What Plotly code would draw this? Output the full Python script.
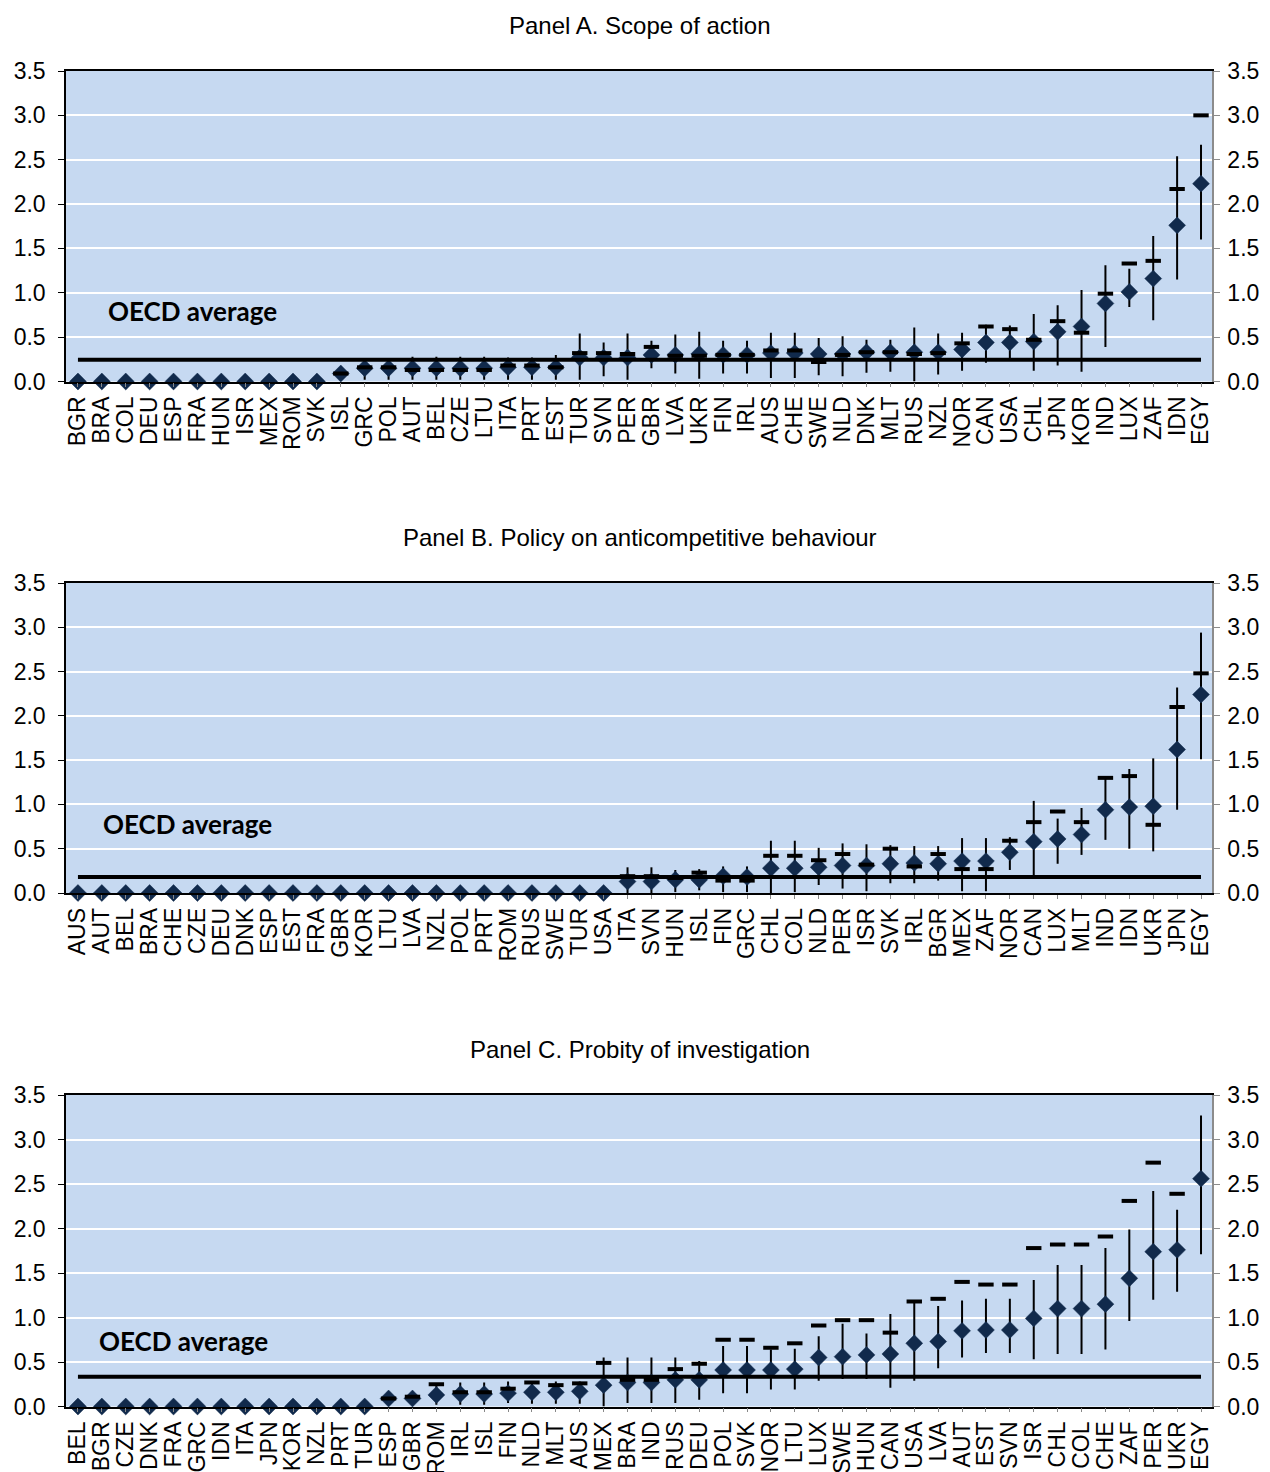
import plotly.graph_objects as go

# ---------------- Panel A. Scope of action ----------------
cats_a = ["BGR","BRA","COL","DEU","ESP","FRA","HUN","ISR","MEX","ROM","SVK","ISL","GRC","POL","AUT","BEL",
          "CZE","LTU","ITA","PRT","EST","TUR","SVN","PER","GBR","LVA","UKR","FIN","IRL","AUS","CHE","SWE",
          "NLD","DNK","MLT","RUS","NZL","NOR","CAN","USA","CHL","JPN","KOR","IND","LUX","ZAF","IDN","EGY"]
score_a = [0,0,0,0,0,0,0,0,0,0,0,0.09,0.15,0.15,0.15,0.15,
           0.15,0.15,0.16,0.16,0.16,0.27,0.27,0.27,0.30,0.30,0.31,0.30,0.30,0.32,0.32,0.31,
           0.31,0.33,0.33,0.33,0.33,0.36,0.44,0.44,0.45,0.56,0.62,0.88,1.01,1.16,1.76,2.23]
dash_a = [None,None,None,None,None,None,None,None,None,None,None,0.09,0.16,0.16,0.13,0.13,
          0.13,0.13,0.18,0.18,0.16,0.32,0.32,0.31,0.39,0.29,0.29,0.30,0.30,0.35,0.35,0.22,
          0.30,0.33,0.33,0.31,0.32,0.43,0.62,0.59,0.47,0.68,0.55,0.99,1.33,1.36,2.17,3.00]
lo_a = [None,None,None,None,None,None,None,None,None,None,None,0.06,0.02,0.02,0.02,0.02,
        0.02,0.02,0.02,0.02,0.02,0.02,0.06,0.02,0.15,0.09,0.03,0.09,0.09,0.04,0.04,0.07,
        0.06,0.10,0.11,0.00,0.08,0.12,0.21,0.26,0.12,0.18,0.11,0.39,0.84,0.69,1.15,1.60]
hi_a = [None,None,None,None,None,None,None,None,None,None,None,0.12,0.26,0.26,0.28,0.28,
        0.28,0.28,0.27,0.27,0.30,0.54,0.44,0.54,0.46,0.53,0.56,0.46,0.46,0.55,0.55,0.49,
        0.51,0.47,0.47,0.61,0.54,0.55,0.64,0.63,0.76,0.86,1.03,1.31,1.27,1.64,2.54,2.67]
avg_a = 0.245

# ---------------- Panel B. Policy on anticompetitive behaviour ----------------
cats_b = ["AUS","AUT","BEL","BRA","CHE","CZE","DEU","DNK","ESP","EST","FRA","GBR","KOR","LTU","LVA","NZL",
          "POL","PRT","ROM","RUS","SWE","TUR","USA","ITA","SVN","HUN","ISL","FIN","GRC","CHL","COL","NLD",
          "PER","ISR","SVK","IRL","BGR","MEX","ZAF","NOR","CAN","LUX","MLT","IND","IDN","UKR","JPN","EGY"]
score_b = [0,0,0,0,0,0,0,0,0,0,0,0,0,0,0,0,
           0,0,0,0,0,0,0,0.13,0.13,0.15,0.15,0.19,0.18,0.28,0.28,0.29,
           0.31,0.31,0.33,0.34,0.33,0.36,0.36,0.46,0.58,0.61,0.66,0.94,0.97,0.98,1.62,2.24]
dash_b = [None,None,None,None,None,None,None,None,None,None,None,None,None,None,None,None,
          None,None,None,None,None,None,None,0.19,0.19,0.17,0.23,0.14,0.14,0.42,0.42,0.37,
          0.44,0.32,0.50,0.30,0.44,0.27,0.27,0.59,0.80,0.92,0.80,1.30,1.32,0.77,2.10,2.48]
lo_b = [None,None,None,None,None,None,None,None,None,None,None,None,None,None,None,None,
        None,None,None,None,None,None,None,0.00,0.00,0.01,0.03,0.01,0.01,0.00,0.01,0.09,
        0.05,0.02,0.11,0.11,0.14,0.02,0.02,0.26,0.20,0.33,0.43,0.60,0.50,0.47,0.94,1.51]
hi_b = [None,None,None,None,None,None,None,None,None,None,None,None,None,None,None,None,
        None,None,None,None,None,None,None,0.29,0.29,0.26,0.27,0.30,0.30,0.59,0.59,0.51,
        0.56,0.55,0.54,0.53,0.53,0.62,0.62,0.63,1.04,0.84,0.96,1.30,1.40,1.52,2.32,2.94]
avg_b = 0.18

# ---------------- Panel C. Probity of investigation ----------------
cats_c = ["BEL","BGR","CZE","DNK","FRA","GRC","IDN","ITA","JPN","KOR","NZL","PRT","TUR","ESP","GBR","ROM",
          "IRL","ISL","FIN","NLD","MLT","AUS","MEX","BRA","IND","RUS","DEU","POL","SVK","NOR","LTU","LUX",
          "SWE","HUN","CAN","USA","LVA","AUT","EST","SVN","ISR","CHL","COL","CHE","ZAF","PER","UKR","EGY"]
score_c = [0,0,0,0,0,0,0,0,0,0,0,0,0,0.09,0.09,0.13,
           0.14,0.14,0.15,0.16,0.16,0.17,0.24,0.27,0.27,0.30,0.30,0.41,0.41,0.41,0.42,0.55,
           0.56,0.58,0.59,0.71,0.73,0.85,0.86,0.86,0.99,1.10,1.10,1.15,1.44,1.74,1.76,2.56]
dash_c = [None,None,None,None,None,None,None,None,None,None,None,None,None,0.09,0.11,0.25,
          0.16,0.16,0.20,0.27,0.24,0.26,0.49,0.30,0.30,0.42,0.48,0.75,0.75,0.66,0.71,0.91,
          0.97,0.97,0.83,1.18,1.21,1.40,1.37,1.37,1.78,1.82,1.82,1.91,2.31,2.74,2.39,None]
lo_c = [None,None,None,None,None,None,None,None,None,None,None,None,None,None,None,0.02,
        0.02,0.02,0.04,0.03,0.03,0.03,0.00,0.04,0.04,0.04,0.075,0.15,0.15,0.19,0.19,0.29,
        0.31,0.31,0.21,0.29,0.43,0.55,0.60,0.60,0.53,0.59,0.59,0.64,0.96,1.20,1.29,1.71]
hi_c = [None,None,None,None,None,None,None,None,None,None,None,None,None,None,None,0.25,
        0.27,0.27,0.28,0.27,0.28,0.28,0.55,0.55,0.55,0.55,0.51,0.68,0.68,0.64,0.65,0.79,
        0.93,0.82,1.04,1.17,1.13,1.19,1.21,1.21,1.42,1.59,1.59,1.78,1.99,2.42,2.21,3.27]
avg_c = 0.335

titles = ["Panel A. Scope of action",
          "Panel B. Policy on anticompetitive behaviour",
          "Panel C. Probity of investigation"]

panels = [(cats_a, score_a, dash_a, lo_a, hi_a, avg_a),
          (cats_b, score_b, dash_b, lo_b, hi_b, avg_b),
          (cats_c, score_c, dash_c, lo_c, hi_c, avg_c)]

# the page body adds an 8px offset, so the figure is laid out 8px smaller
OFF = 8
W, H = 1270 - OFF, 1472 - OFF
L, R = 66 - OFF, 1212 - OFF
px_rows = [(71 - OFF, 381.5 - OFF), (583 - OFF, 893 - OFF), (1095 - OFF, 1406.5 - OFF)]
title_px = [25 - OFF, 537 - OFF, 1049 - OFF]
title_cx = 640 - OFF
label_pos = [(106 - OFF, 0.80), (101 - OFF, 0.78), (97 - OFF, 0.74)]

NAVY = "#112a4c"
BG = "#c6d9f1"
FONT = "Liberation Sans, Arial, sans-serif"
TICK = 23

fig = go.Figure()
layout = dict(
    width=W, height=H,
    margin=dict(l=L, r=W - R, t=0, b=0, autoexpand=False),
    paper_bgcolor="white",
    showlegend=False,
    font=dict(family=FONT, size=TICK, color="black"),
    annotations=[],
)

for i, (cats, score, dash, lo, hi, avg) in enumerate(panels):
    n = i + 1
    xa = "x" if n == 1 else f"x{n}"
    ya = "y" if n == 1 else f"y{n}"
    yr = f"y{n + 3}"
    top, bot = px_rows[i]
    dom = [1 - bot / H, 1 - top / H]

    plus = [(h - s) if h is not None else 0 for h, s in zip(hi, score)]
    minus = [(s - l) if l is not None else 0 for l, s in zip(lo, score)]

    # confidence interval bars
    fig.add_trace(go.Scatter(
        x=cats, y=score, mode="markers", xaxis=xa, yaxis=ya,
        marker=dict(size=1, opacity=0),
        error_y=dict(type="data", symmetric=False, array=plus, arrayminus=minus,
                     color="black", thickness=2, width=0),
        hoverinfo="skip", cliponaxis=False))
    # point estimates
    fig.add_trace(go.Scatter(
        x=cats, y=score, mode="markers", xaxis=xa, yaxis=ya,
        marker=dict(symbol="diamond", size=13, color=NAVY,
                    line=dict(color=NAVY, width=0.5)),
        cliponaxis=False))
    # dash markers
    fig.add_trace(go.Scatter(
        x=cats, y=dash, mode="markers", xaxis=xa, yaxis=ya,
        marker=dict(symbol="line-ew", size=11, color="black",
                    line=dict(color="black", width=4)),
        cliponaxis=False))
    # OECD average line
    fig.add_trace(go.Scatter(
        x=[cats[0], cats[-1]], y=[avg, avg], mode="lines", xaxis=xa, yaxis=ya,
        line=dict(color="black", width=4)))

    xkey = "xaxis" if n == 1 else f"xaxis{n}"
    ykey = "yaxis" if n == 1 else f"yaxis{n}"
    layout[xkey] = dict(
        domain=[0, 1], anchor=ya, type="category", categoryorder="array", categoryarray=cats,
        tickmode="array", tickvals=cats, ticktext=cats,
        range=[-0.5, 47.46], tickangle=-90, tickfont=dict(size=TICK, family=FONT),
        showline=True, linecolor="black", linewidth=1.5, mirror=True,
        ticks="outside", ticklen=4, tickcolor="#888888", tickwidth=1,
        showgrid=False, zeroline=False, automargin=False, fixedrange=True)
    layout[ykey] = dict(
        domain=dom, anchor=xa, range=[0, 3.5], dtick=0.5, tick0=0, tickformat=".1f",
        showline=True, linecolor="black", linewidth=1.5,
        ticks="outside", ticklen=6, tickcolor="black", tickwidth=1,
        ticklabelstandoff=8,
        showgrid=True, gridcolor="white", gridwidth=1.5, zeroline=False,
        tickfont=dict(size=TICK, family=FONT), automargin=False, fixedrange=True)
    layout[f"yaxis{n + 3}"] = dict(
        overlaying=ya, side="right", anchor=xa, range=[0, 3.5], dtick=0.5, tick0=0,
        tickformat=".1f", showline=True, linecolor="#8c8c8c", linewidth=1.5,
        ticks="outside", ticklen=6, tickcolor="#8c8c8c", tickwidth=1,
        ticklabelstandoff=3,
        showgrid=False, zeroline=False, tickfont=dict(size=TICK, family=FONT),
        automargin=False, fixedrange=True)
    # invisible trace so the right-hand axis is rendered
    fig.add_trace(go.Scatter(x=[cats[0]], y=[0], xaxis=xa, yaxis=yr, mode="markers",
                             marker=dict(opacity=0, size=1), hoverinfo="skip"))

    layout["annotations"].append(dict(
        text=titles[i], xref="paper", yref="paper",
        x=(title_cx - L) / (R - L), y=1 - title_px[i] / H, xanchor="center", yanchor="middle",
        showarrow=False, font=dict(size=24, family=FONT, color="black")))
    lx, ly = label_pos[i]
    layout["annotations"].append(dict(
        text="<b>OECD average</b>", xref="paper", yref=ya,
        x=(lx - L) / (R - L), y=ly, xanchor="left", yanchor="middle",
        showarrow=False, font=dict(size=26, family="Lato, Carlito, Calibri, sans-serif", color="black")))

layout["plot_bgcolor"] = BG
fig.update_layout(**layout)
fig.write_html("out.html")
